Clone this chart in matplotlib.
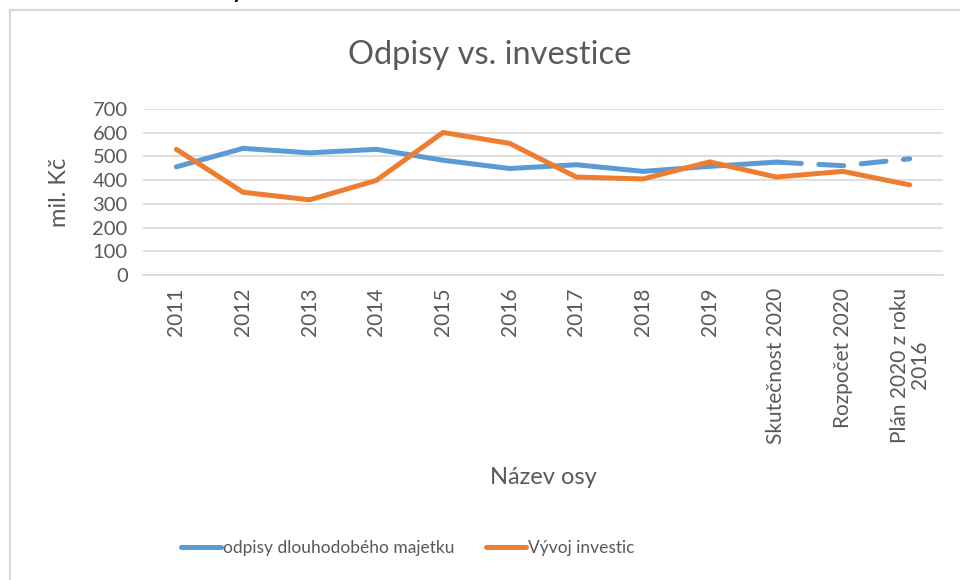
import matplotlib
matplotlib.use('Agg')
import matplotlib.pyplot as plt
from matplotlib.patches import Rectangle

plt.rcParams['font.family'] = ['Lato', 'DejaVu Sans']

# data
categories = ['2011', '2012', '2013', '2014', '2015', '2016', '2017', '2018', '2019',
              'Skutečnost 2020', 'Rozpočet 2020', 'Plán 2020 z roku\n2016']
odpisy = [456, 534, 515, 530, 484, 449, 465, 437, 458, 476, 461, 490]
investice = [530, 349, 317, 399, 601, 555, 413, 405, 477, 413, 437, 380]
n_solid = 10  # odpisy are solid up to "Skutečnost 2020", dashed afterwards

blue = '#5B9BD5'
orange = '#ED7D31'
grey_txt = '#595959'
grid_col = '#D9D9D9'

fig = plt.figure(figsize=(9.6, 5.8), dpi=100)
W, H = 960, 580

# chart frame (right and bottom edges lie outside the picture)
fig.patches.append(Rectangle((10 / W, -0.1), 1.1, 1 - 10 / H + 0.1, transform=fig.transFigure,
                             fill=False, edgecolor=grid_col, linewidth=1.6))
# bit of document text cut off above the chart
fig.text(238 / W, 1 + 1.5 / H, 'y', fontsize=16, fontweight='bold', color='black',
         ha='center', va='baseline')

ax = fig.add_axes([143 / W, 1 - 275 / H, 800 / W, 166 / H])
x = list(range(len(categories)))

lw = 3.6
ax.plot(x[:n_solid], odpisy[:n_solid], color=blue, lw=lw, solid_capstyle='round',
        solid_joinstyle='round', label='odpisy dlouhodobého majetku', zorder=3)
ax.plot(x[n_solid - 1:], odpisy[n_solid - 1:], color=blue, lw=lw, dashes=(5, 3.5),
        dash_capstyle='round', zorder=3)
ax.plot(x, investice, color=orange, lw=lw, solid_capstyle='round',
        solid_joinstyle='round', label='Vývoj investic', zorder=4)

ax.set_xlim(-0.5, len(categories) - 0.5)
ax.set_ylim(0, 700)
ax.set_yticks(range(0, 701, 100))
ax.yaxis.grid(True, color=grid_col, lw=1.2)
ax.set_axisbelow(True)
for s in ['top', 'right', 'left']:
    ax.spines[s].set_visible(False)
ax.spines['bottom'].set_color(grid_col)
ax.spines['bottom'].set_linewidth(1.2)
ax.tick_params(axis='both', length=0, colors=grey_txt)
ax.tick_params(axis='y', pad=11, labelsize=14.5)
ax.tick_params(axis='x', pad=9, labelsize=15)

ax.set_xticks(x)
ax.set_xticklabels(categories, rotation=90, ha='center', va='top',
                   multialignment='center', linespacing=1.0)

ax.set_ylabel('mil. Kč', fontsize=17, color=grey_txt)
ax.yaxis.set_label_coords(-0.091, 0.5)

fig.text(543 / W, 1 - 478 / H, 'Název osy', fontsize=17, color=grey_txt,
         ha='center', va='center')
fig.text(490 / W, 1 - 55 / H, 'Odpisy vs. investice', fontsize=23.5, color=grey_txt,
         ha='center', va='center')

leg = fig.legend(loc='center', bbox_to_anchor=(408 / W, 1 - 548 / H), ncol=2,
                 frameon=False, fontsize=12.5, handlelength=2.3, handletextpad=0.12,
                 columnspacing=1.8, labelcolor=grey_txt)

fig.savefig('out.png', dpi=100)
